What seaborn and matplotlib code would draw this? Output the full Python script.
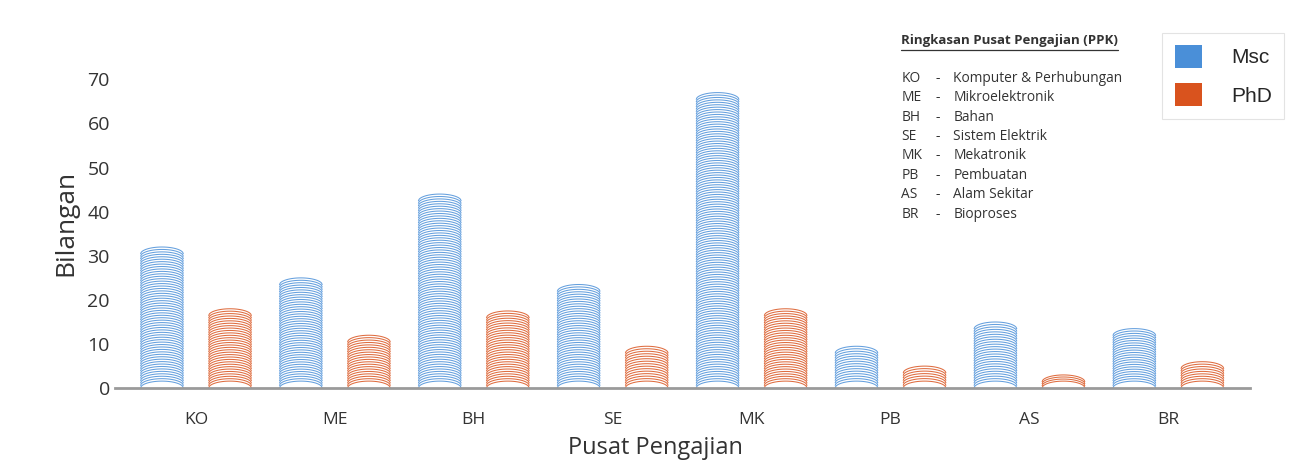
import matplotlib
matplotlib.use("Agg")
import matplotlib.pyplot as plt
import numpy as np
import pandas as pd
import seaborn as sns
from matplotlib.patches import Patch

centres = ["KO", "ME", "BH", "SE", "MK", "PB", "AS", "BR"]
msc = [32, 25, 44, 23.5, 67, 9.5, 15, 13.5]
phd = [18, 12, 17.5, 9.5, 18, 5, 3, 6]
series = ["Msc", "PhD"]
colors = {"Msc": "#4a8fd8", "PhD": "#d9531e"}
summary_title = "Ringkasan Pusat Pengajian (PPK)"
summary_names = [
    "Komputer & Perhubungan",
    "Mikroelektronik",
    "Bahan",
    "Sistem Elektrik",
    "Mekatronik",
    "Pembuatan",
    "Alam Sekitar",
    "Bioproses",
]

df = pd.DataFrame(
    {
        "Pusat": centres * 2,
        "Bilangan": msc + phd,
        "Jenis": ["Msc"] * len(centres) + ["PhD"] * len(centres),
    }
)

sns.set_theme(style="white")
plt.rcParams["font.family"] = ["Open Sans", "DejaVu Sans"]

fig = plt.figure(figsize=(12.97, 4.66), dpi=100)
ax = fig.add_axes([0.089, 0.167, 0.875, 0.71])

sns.barplot(
    data=df, x="Pusat", y="Bilangan", hue="Jenis", order=centres,
    hue_order=series, palette=colors, width=0.98, gap=0.37,
    legend=False, ax=ax,
)

# turn each bar into a stack of thin arcs (cylinder look)
cap, step = 1.6, 0.55
for bar, jenis in zip(ax.patches, np.repeat(series, len(centres))):
    x0, w, h = bar.get_x(), bar.get_width(), bar.get_height()
    bar.set_visible(False)
    if h <= 0:
        continue
    xs = np.linspace(x0, x0 + w, 60)
    u = (xs - (x0 + w / 2)) / (w / 2)
    dome = np.sqrt(np.clip(1 - u**2, 0, 1))
    c = min(cap, h * 0.6)
    n = max(int(round((h - c) / step)) + 1, 2)
    for base in np.linspace(0, h - c, n):
        ax.plot(xs, base + c * dome, color=colors[jenis], lw=0.75, alpha=0.85,
                solid_capstyle="butt")

ax.set_xlim(-0.58, 7.59)
ax.set_ylim(0, 75)
ax.set_yticks(range(0, 71, 10))
ax.tick_params(axis="y", labelsize=14, colors="#333333", length=0, pad=4)
ax.tick_params(axis="x", labelsize=12.5, colors="#333333", length=0, pad=17)
for s in ["top", "right", "left"]:
    ax.spines[s].set_visible(False)
ax.spines["bottom"].set_color("#9a9a9a")
ax.spines["bottom"].set_linewidth(2)
ax.set_xlabel("Pusat Pengajian", fontsize=17, color="#333333")
ax.set_ylabel("Bilangan", fontsize=19, color="#333333")
ax.xaxis.set_label_coords(0.476, -0.145)
ax.yaxis.set_label_coords(-0.033, 0.5)

# legend
handles = [Patch(facecolor=colors[s], edgecolor="none", label=s) for s in series]
leg = fig.legend(
    handles=handles, loc="upper left", bbox_to_anchor=(0.896, 0.93),
    borderaxespad=0, frameon=True, handlelength=1.3, handleheight=1.3,
    labelspacing=0.75, handletextpad=1.4, borderpad=0.6, fancybox=False,
    prop={"family": ["Liberation Sans Narrow", "Liberation Sans", "DejaVu Sans"], "size": 15},
)
leg.get_frame().set_edgecolor("#dddddd")
leg.get_frame().set_linewidth(0.8)

# summary of abbreviations
x_ab, x_dash, x_nm = 0.695, 0.721, 0.735
title = fig.text(x_ab, 0.905, summary_title, fontsize=9.5, fontweight="bold",
                 color="#333333", va="baseline")
fig.canvas.draw()
bb = title.get_window_extent().transformed(fig.transFigure.inverted())
fig.add_artist(plt.Line2D([bb.x0, bb.x1], [bb.y0 - 0.006, bb.y0 - 0.006],
                          color="#333333", lw=0.9, transform=fig.transFigure))
for i, (ab, nm) in enumerate(zip(centres, summary_names)):
    yy = 0.825 - i * 0.0418
    fig.text(x_ab, yy, ab, fontsize=9.9, color="#333333", va="baseline")
    fig.text(x_dash, yy, "-", fontsize=9.9, color="#333333", va="baseline")
    fig.text(x_nm, yy, nm, fontsize=9.9, color="#333333", va="baseline")

fig.savefig("out.png", dpi=100, facecolor="white")
